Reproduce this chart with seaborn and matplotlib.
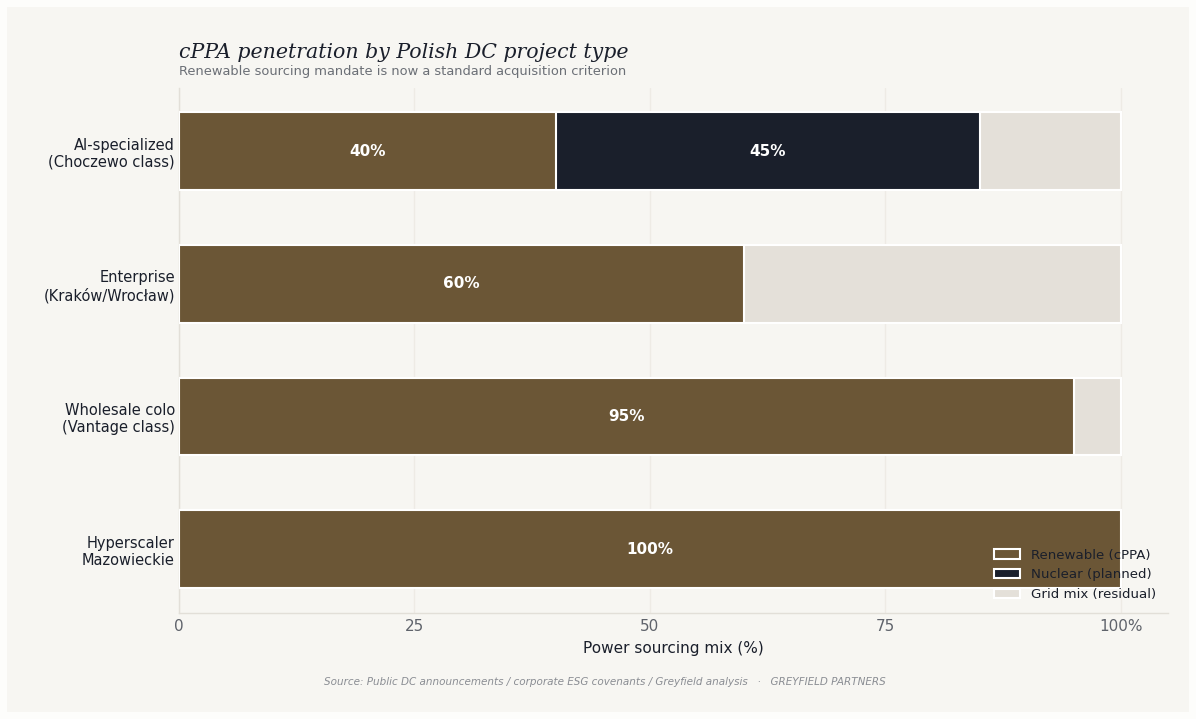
import matplotlib
matplotlib.use("Agg")
import matplotlib.pyplot as plt
import seaborn as sns
import pandas as pd
import numpy as np
from matplotlib.patches import Rectangle, Patch

categories = ["AI-specialized\n(Choczewo class)", "Enterprise\n(Kraków/Wrocław)",
              "Wholesale colo\n(Vantage class)", "Hyperscaler\nMazowieckie"]
renewable = [40, 60, 95, 100]
nuclear = [45, 0, 0, 0]
grid_mix = [15, 40, 5, 0]

C_REN = "#6b5636"
C_NUC = "#1a1f2b"
C_GRID = "#e4e0d9"
BG = "#f7f6f2"
TXT = "#1a1f2b"

sns.set_theme(style="white")
plt.rcParams['font.family'] = ['DejaVu Sans']

df = pd.DataFrame({"cat": categories, "ren": renewable, "nuc": nuclear, "grid": grid_mix})
df["c_total"] = df["ren"] + df["nuc"] + df["grid"]
df["c_rn"] = df["ren"] + df["nuc"]

fig = plt.figure(figsize=(11.96, 7.19), dpi=100, facecolor="#fdfdfb")
fig.patches.append(Rectangle((7/1196, 7/719), 1 - 14/1196, 1 - 14/719, transform=fig.transFigure,
                             facecolor=BG, edgecolor="none", zorder=-10))
ax = fig.add_axes([179/1196, 1 - 613/719, (1168 - 179)/1196, (613 - 88)/719])
ax.set_facecolor(BG)

kw = dict(y="cat", orient="h", order=categories, width=0.585, edgecolor="white", linewidth=1.5,
          saturation=1, ax=ax)
sns.barplot(data=df, x="c_total", color=C_GRID, **kw)
sns.barplot(data=df, x="c_rn", color=C_NUC, **kw)
sns.barplot(data=df, x="ren", color=C_REN, **kw)
for p in ax.patches:
    p.set_zorder(3)

for i in range(len(categories)):
    if renewable[i] > 0:
        ax.text(renewable[i] / 2, i, f"{renewable[i]}%", ha="center", va="center",
                color="white", fontsize=11, fontweight="bold", zorder=5)
    if nuclear[i] > 0:
        ax.text(renewable[i] + nuclear[i] / 2, i, f"{nuclear[i]}%", ha="center", va="center",
                color="white", fontsize=11, fontweight="bold", zorder=5)

ax.set_xlim(0, 105)
ax.set_ylim(3.48, -0.475)
ax.set_xticks([0, 25, 50, 75, 100])
ax.set_xticklabels(["0", "25", "50", "75", "100%"])
ax.tick_params(axis="x", colors="#5f636b", labelsize=11, length=0, pad=4)
ax.tick_params(axis="y", colors=TXT, labelsize=10.5, length=0, pad=3)
for lab in ax.get_yticklabels():
    lab.set_linespacing(1.2)
ax.set_ylabel("")
ax.set_xlabel("Power sourcing mix (%)", fontsize=11, color=TXT, labelpad=5)
ax.xaxis.grid(True, color="#eeebe5", linewidth=1.0, zorder=0)
ax.set_axisbelow(True)
for s in ["top", "right"]:
    ax.spines[s].set_visible(False)
for s in ["left", "bottom"]:
    ax.spines[s].set_color("#e2dfd8")
    ax.spines[s].set_linewidth(1.0)

handles = [Patch(facecolor=C_REN, edgecolor="white", linewidth=1.5, label="Renewable (cPPA)"),
           Patch(facecolor=C_NUC, edgecolor="white", linewidth=1.5, label="Nuclear (planned)"),
           Patch(facecolor=C_GRID, edgecolor="white", linewidth=1.5, label="Grid mix (residual)")]
leg = ax.legend(handles=handles, loc="lower right", frameon=False, fontsize=9.6,
                bbox_to_anchor=(1.0, 0.0), borderaxespad=0.5, handlelength=2.0, handletextpad=0.8)
for t in leg.get_texts():
    t.set_color(TXT)
leg.set_zorder(10)

fig.text(179/1196, 1 - 53/719, "cPPA penetration by Polish DC project type", family="DejaVu Serif",
         style="italic", fontsize=14.8, color=TXT, ha="left", va="center")
fig.text(179/1196, 1 - 71/719, "Renewable sourcing mandate is now a standard acquisition criterion",
         fontsize=9.4, color="#6b6f76", ha="left", va="center")
fig.text(605/1196, 1 - 682/719,
         "Source: Public DC announcements / corporate ESG covenants / Greyfield analysis   ·   GREYFIELD PARTNERS",
         fontsize=7.5, style="italic", color="#8a8d93", ha="center", va="center")

fig.savefig("out.png", dpi=100, facecolor=fig.get_facecolor())
